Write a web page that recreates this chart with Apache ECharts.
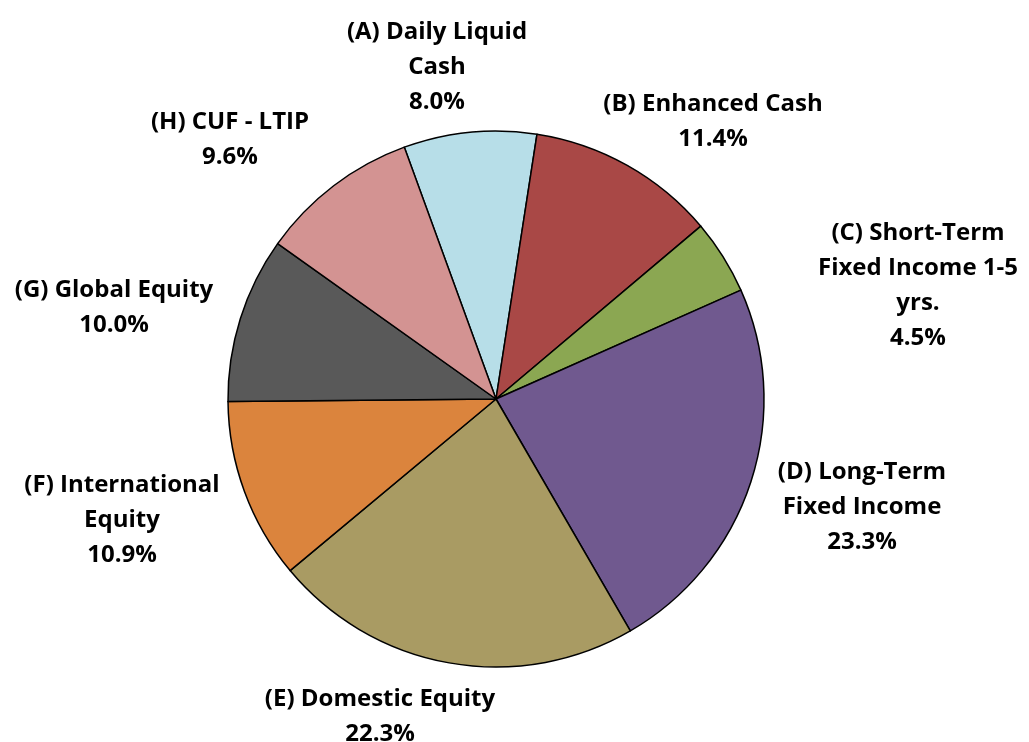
<!DOCTYPE html>
<html>
<head>
<meta charset="utf-8">
<script src="https://cdn.jsdelivr.net/npm/echarts@6/dist/echarts.min.js"></script>
<style>
html,body{margin:0;padding:0;background:#fff;}
#chart{width:1029px;height:742px;}
</style>
</head>
<body>
<div id="chart"></div>
<script>
// Data
const categories = [
  "(A) Daily Liquid\nCash",
  "(B) Enhanced Cash",
  "(C) Short-Term\nFixed Income 1-5\nyrs.",
  "(D) Long-Term\nFixed Income",
  "(E) Domestic Equity",
  "(F) International\nEquity",
  "(G) Global Equity",
  "(H) CUF - LTIP"
];
const values = [8.0, 11.4, 4.5, 23.3, 22.3, 10.9, 10.0, 9.6];

// Styling / layout (kept separate from data)
const colors = ["#B7DEE8", "#A94846", "#8BA752", "#70598F", "#A99B63", "#DB843D", "#595959", "#D39392"];
const pieCenter = [496, 399];
const pieRadius = 268;
// label box centre offsets from pie centre
const labelOffsets = [
  [-59, -332], [217, -277], [422, -113], [366, 108],
  [-116, 318], [-374, 121], [-382, -91], [-266, -259]
];

const chart = echarts.init(document.getElementById('chart'), null, {renderer: 'canvas'});
chart.setOption({
  animation: false,
  backgroundColor: '#ffffff',
  series: [{
    type: 'pie',
    center: pieCenter,
    radius: pieRadius,
    startAngle: 110,
    clockwise: true,
    silent: true,
    data: categories.map((c, i) => ({
      name: c, value: values[i],
      itemStyle: {color: colors[i]}
    })),
    itemStyle: {borderColor: '#000000', borderWidth: 1.5},
    label: {
      show: true,
      position: 'outside',
      formatter: p => p.name + '\n' + p.value.toFixed(1) + '%',
      fontFamily: '"Open Sans", Lato, sans-serif',
      fontWeight: 'bold',
      fontSize: 24,
      lineHeight: 35,
      color: '#000000',
      align: 'center',
      overflow: 'none',
      edgeDistance: 0,
      bleedMargin: 0
    },
    labelLine: {show: false},
    labelLayout: function (params) {
      const o = labelOffsets[params.dataIndex];
      return {
        x: pieCenter[0] + o[0],
        y: pieCenter[1] + o[1],
        align: 'center',
        verticalAlign: 'middle'
      };
    }
  }]
});
</script>
</body>
</html>
